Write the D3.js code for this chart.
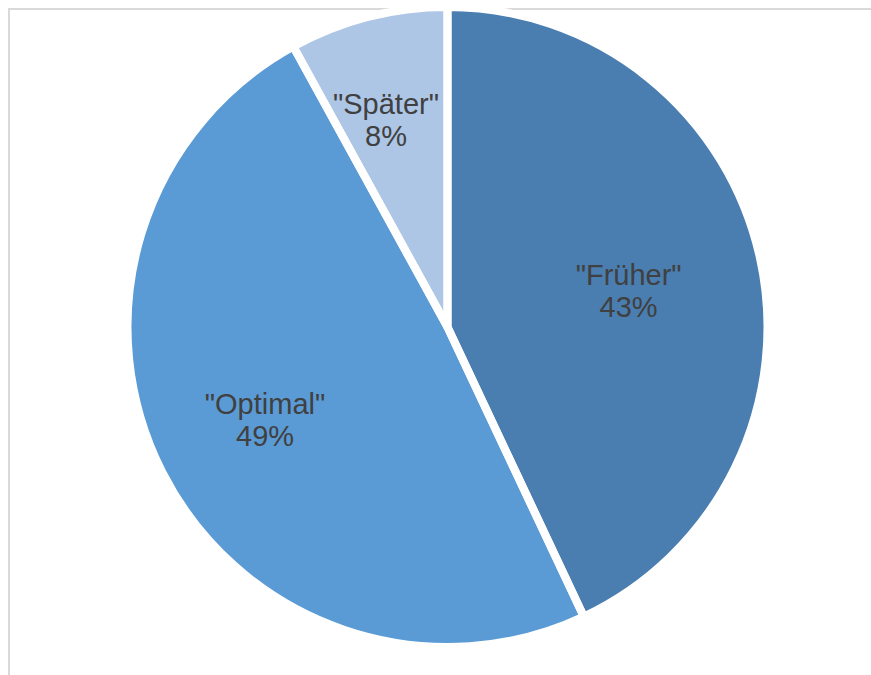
<!DOCTYPE html>
<html>
<head>
<meta charset="utf-8">
<script src="https://cdn.jsdelivr.net/npm/d3@7"></script>
<style>
  html, body { margin: 0; padding: 0; background: #ffffff; }
  svg { display: block; }
</style>
</head>
<body>
<script>
// Survey answers: share of responses per category
const categories = ['"Früher"', '"Optimal"', '"Später"'];
const values = [43, 49, 8];
const sliceColors = ["#4a7eb1", "#5b9bd5", "#adc6e6"];

const width = 871, height = 675;
const cx = 447.5, cy = 327, outerR = 320;   // outer edge sits under the white border stroke
const gap = 8;                               // white separator width

// label distance from the centre, as a fraction of the radius (best-fit placement),
// plus a small nudge in pixels for each label
const labelFraction = [0.58, 0.64, 0.685];
const labelNudge = [[0, 4], [0, 0], [-7, 5]];

const svg = d3.select("body").append("svg")
  .attr("width", width).attr("height", height);

// chart-area frame (only top and left edges fall inside the view)
svg.append("rect")
  .attr("x", 9).attr("y", 9)
  .attr("width", width + 20).attr("height", height + 20)
  .attr("fill", "none")
  .attr("stroke", "#d9d9d9")
  .attr("stroke-width", 2);

const total = d3.sum(values);
const pie = d3.pie().sort(null).startAngle(0).endAngle(2 * Math.PI);
const arcs = pie(values);
const arc = d3.arc().innerRadius(0).outerRadius(outerR);

const g = svg.append("g").attr("transform", `translate(${cx},${cy})`);

// slice fills
g.selectAll("path.fill").data(arcs).enter().append("path")
  .attr("class", "fill")
  .attr("d", arc)
  .attr("fill", (d, i) => sliceColors[i]);

// white separators drawn over all fills
g.selectAll("path.sep").data(arcs).enter().append("path")
  .attr("class", "sep")
  .attr("d", arc)
  .attr("fill", "none")
  .attr("stroke", "#ffffff")
  .attr("stroke-width", gap)
  .attr("stroke-linejoin", "miter");

// data labels: category name and percentage
const fontSize = 29, lineGap = 32;
const labels = g.selectAll("text.lbl").data(arcs).enter().append("text")
  .attr("class", "lbl")
  .attr("transform", (d, i) => {
    const r = outerR * labelFraction[i];
    const c = d3.arc().innerRadius(r).outerRadius(r).centroid(d);
    return `translate(${c[0] + labelNudge[i][0]},${c[1] + labelNudge[i][1]})`;
  })
  .attr("text-anchor", "middle")
  .attr("font-family", "'Liberation Sans', Arial, sans-serif")
  .attr("font-size", fontSize)
  .attr("fill", "#404040");

labels.append("tspan")
  .attr("x", 0).attr("y", -lineGap / 2 + fontSize * 0.36)
  .text((d, i) => categories[i]);
labels.append("tspan")
  .attr("x", 0).attr("y", lineGap / 2 + fontSize * 0.36)
  .text(d => Math.round(d.value / total * 100) + "%");
</script>
</body>
</html>
